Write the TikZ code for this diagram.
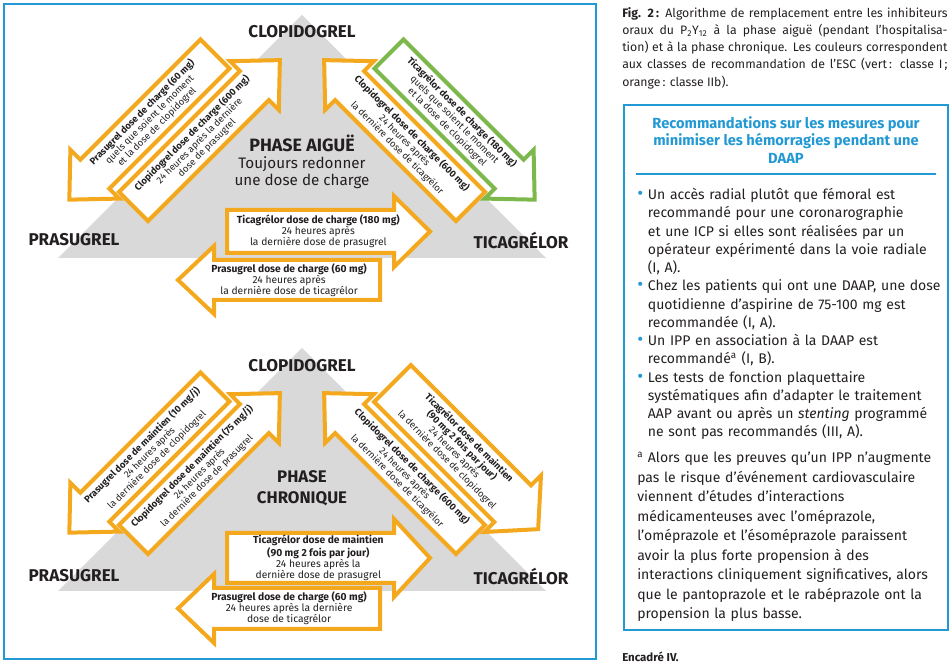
\documentclass[tikz,border=0pt]{standalone}
\usepackage{fontspec}
\setmainfont{Fira Sans}
\usetikzlibrary{positioning}
\definecolor{orangeesc}{HTML}{F4A81D}
\definecolor{vertesc}{HTML}{7DB84C}
\definecolor{gristri}{HTML}{D9D9D9}
\definecolor{bleucadre}{HTML}{2399D4}
\definecolor{texte}{HTML}{231F20}

% block arrow: name, colour, tail, angle, length, half shaft, text options, text
\newcommand{\fleche}[8]{%
  \begin{scope}[shift={#3},rotate=#4]
    \draw[bloc,draw=#2] (0,-#6) -- ({#5-36},-#6) -- ({#5-36},{-#6-14}) -- (#5,0)
      -- ({#5-36},{#6+14}) -- ({#5-36},#6) -- (0,#6) -- cycle;
    \node[etiq,#7] (#1) at ({0.45*#5},0) {#8};
  \end{scope}}
\newcommand{\puce}{\par\hangindent=8pt\hangafter=1\noindent
  \makebox[8pt][l]{\textcolor{bleucadre}{\scalebox{1.3}{\textbullet}}}}
\newcommand{\ligne}[1]{\makebox[244pt][s]{#1}}

\begin{document}
\begin{tikzpicture}[x=0.75pt,y=-0.75pt,
  bloc/.style={fill=white,line width=3pt,line join=miter},
  etiq/.style={font=\fontsize{7.7}{8.3}\selectfont,align=center,inner sep=0pt,text=texte},
  diagh/.style={rotate=45,font=\fontsize{7.1}{7.8}\selectfont},
  diagb/.style={rotate=-45,font=\fontsize{7.1}{7.8}\selectfont},
  sommet/.style={font=\fontsize{12.8}{14}\selectfont\bfseries,text=texte},
  phase/.style={font=\fontsize{11.4}{13}\selectfont,align=center,text=texte},
  tri/.style={fill=gristri},
  cadre/.style={draw=bleucadre,line width=2.2pt},
  corps/.style={font=\fontsize{10.5}{13.7}\selectfont,text width=240pt,align=left,
                inner sep=0pt,text=texte},
]
\useasboundingbox (0,0) rectangle (951,666);

% ---- figure frame
\draw[cadre] (4,4) rectangle (596,659);

% ---- acute phase
\fill[tri] (302,15) -- (58,258) -- (546,258) -- cycle;
\node[sommet] (clopi1) at (302,32) {CLOPIDOGREL};
\node[sommet] (prasu1) at (74,240) {PRASUGREL};
\node[sommet] (tica1) at (521,240) {TICAGRÉLOR};
\node[phase] (aigue) at (302,162) {{\fontsize{13.4}{13}\selectfont\bfseries PHASE AIGUË}\\Toujours redonner\\une dose de charge};

\fleche{pcA}{orangeesc}{(215,54)}{225}{206}{20.5}{diagh}{\textbf{Prasugrel dose de charge (60 mg)}\\quels que soient le moment\\et la dose de clopidogrel}
\fleche{ccA}{orangeesc}{(133.5,206.5)}{45}{207}{20.5}{diagh}{\textbf{Clopidogrel dose de charge (600 mg)}\\24 heures après la dernière\\dose de prasugrel}
\fleche{ccB}{orangeesc}{(470.5,206.5)}{135}{207}{20.5}{diagb}{\textbf{Clopidogrel dose de charge (600 mg)}\\24 heures après\\la dernière dose de ticagrélor}
\fleche{tcA}{vertesc}{(389,54)}{-45}{206}{20.5}{diagb}{\textbf{Ticagrélor dose de charge (180 mg)}\\quels que soient le moment\\et la dose de clopidogrel}
\fleche{tcB}{orangeesc}{(227,231.5)}{0}{203}{21.5}{}{\textbf{Ticagrélor dose de charge (180 mg)}\\24 heures après\\la dernière dose de prasugrel}
\fleche{pcB}{orangeesc}{(380,280)}{180}{202}{20}{}{\textbf{Prasugrel dose de charge (60 mg)}\\24 heures après\\la dernière dose de ticagrélor}

% ---- chronic phase
\fill[tri] (302,348) -- (58,591) -- (546,591) -- cycle;
\node[sommet] (clopi2) at (302,366) {CLOPIDOGREL};
\node[phase,font=\fontsize{12.6}{16}\selectfont\bfseries] (chron) at (302,488) {PHASE\\CHRONIQUE};
\node[sommet] (prasu2) at (74,576) {PRASUGREL};
\node[sommet] (tica2) at (521,576) {TICAGRÉLOR};

\fleche{pmC}{orangeesc}{(215,387)}{225}{206}{20.5}{diagh}{\textbf{Prasugrel dose de maintien (10 mg/j)}\\24 heures après\\la dernière dose de clopidogrel}
\fleche{cmC}{orangeesc}{(133.5,539.5)}{45}{207}{20.5}{diagh}{\textbf{Clopidogrel dose de maintien (75 mg/j)}\\24 heures après\\la dernière dose de prasugrel}
\fleche{ccD}{orangeesc}{(470.5,539.5)}{135}{207}{20.5}{diagb}{\textbf{Clopidogrel dose de charge (600 mg)}\\24 heures après\\la dernière dose de ticagrélor}
\fleche{tmC}{orangeesc}{(392.5,383.5)}{-45}{206}{26}{diagb}{\textbf{Ticagrélor dose de maintien}\\\textbf{(90 mg 2 fois par jour)}\\24 heures après\\la dernière dose de clopidogrel}
\fleche{tmD}{orangeesc}{(227,558)}{0}{203}{25}{}{\textbf{Ticagrélor dose de maintien}\\\textbf{(90 mg 2 fois par jour)}\\24 heures après la\\dernière dose de prasugrel}
\fleche{pcD}{orangeesc}{(380,608.5)}{180}{202}{20.5}{}{\textbf{Prasugrel dose de charge (60 mg)}\\24 heures après la dernière\\dose de ticagrélor}

% ---- caption
\node[anchor=north west,inner sep=0pt,align=left,text=texte,
      font=\fontsize{9.2}{12.9}\selectfont] (legende) at (622,7)
  {\ligne{\textbf{Fig. 2\,:} Algorithme de remplacement entre les inhibiteurs}\\
   \ligne{oraux du P\textsubscript{2}Y\textsubscript{12} à la phase aiguë (pendant l’hospitalisa-}\\
   \ligne{tion) et à la phase chronique. Les couleurs correspondent}\\
   \ligne{aux classes de recommandation de l’ESC (vert\,: classe I\,;}\\
   orange\,: classe IIb).};

% ---- box IV
\draw[cadre] (624,105) rectangle (948,630);
\node[anchor=north,align=center,inner sep=0pt,text=bleucadre,
      font=\fontsize{11}{13.1}\selectfont\bfseries] (titre) at (786,116)
  {Recommandations sur les mesures pour\\minimiser les hémorragies pendant une\\DAAP};
\draw[bleucadre,line width=1.6pt] (636,174) -- (936,174);
\node[corps,anchor=north west] (liste) at (637,181) {%
\puce Un accès radial plutôt que fémoral est\newline recommandé pour une coronarographie\newline
 et une ICP si elles sont réalisées par un\newline opérateur expérimenté dans la voie radiale\newline (I, A).
\puce Chez les patients qui ont une DAAP, une dose\newline quotidienne d’aspirine de 75-100 mg est\newline
 recommandée (I, A).
\puce Un IPP en association à la DAAP est\newline recommandé\textsuperscript{a} (I, B).
\puce Les tests de fonction plaquettaire\newline systématiques afin d’adapter le traitement\newline
 AAP avant ou après un \emph{stenting} programmé\newline ne sont pas recommandés (III, A).\par};
\node[corps,anchor=north west,font=\fontsize{10.5}{14.6}\selectfont] (note) at (637,452) {%
 \textsuperscript{a} Alors que les preuves qu’un IPP n’augmente\newline
 pas le risque d’événement cardiovasculaire\newline viennent d’études d’interactions\newline
 médicamenteuses avec l’oméprazole,\newline l’oméprazole et l’ésoméprazole paraissent\newline
 avoir la plus forte propension à des\newline interactions cliniquement significatives, alors\newline
 que le pantoprazole et le rabéprazole ont la\newline propension la plus basse.\par};
\node[anchor=west,inner sep=0pt,text=texte,font=\fontsize{8.6}{10}\selectfont\bfseries]
  (encadre) at (622,657) {Encadré IV.};
\end{tikzpicture}
\end{document}
